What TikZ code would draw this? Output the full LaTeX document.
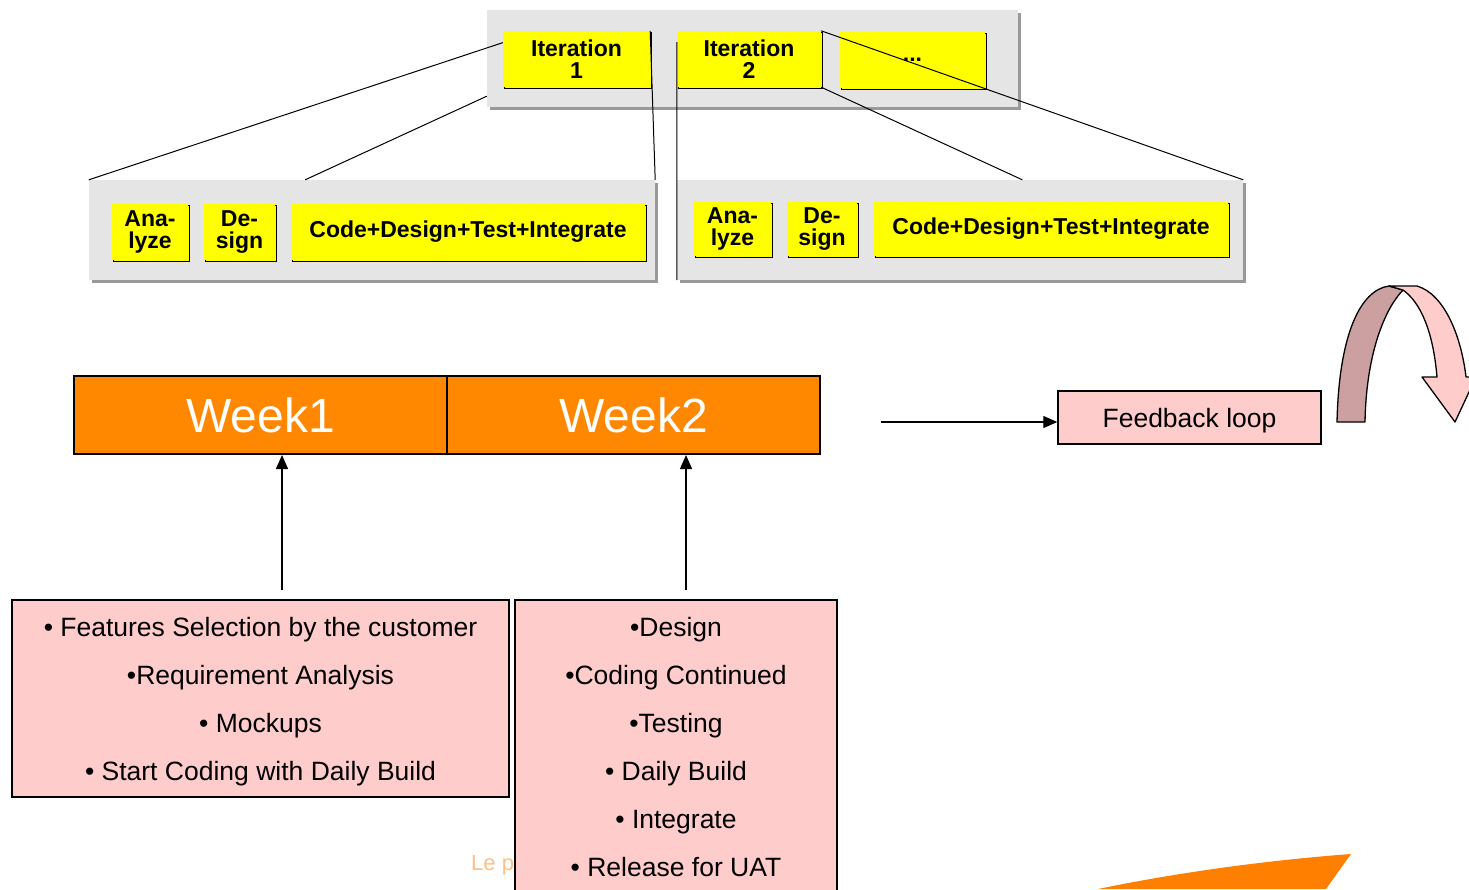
\documentclass[tikz,border=0pt]{standalone}
\usepackage{fontspec}
\setmainfont{Liberation Sans}
\usetikzlibrary{shadows,arrows.meta,calc}
\definecolor{panelgray}{RGB}{229,229,229}
\definecolor{panelshadow}{RGB}{153,153,153}
\definecolor{stepyellow}{RGB}{255,255,0}
\definecolor{weekorange}{RGB}{255,136,0}
\definecolor{notepink}{RGB}{255,204,204}
\definecolor{loopback}{RGB}{204,160,160}
\definecolor{footorange}{RGB}{255,128,0}
\definecolor{faintorange}{RGB}{255,190,130}

\begin{document}
\begin{tikzpicture}[x=1pt,y=-1pt,
  panel/.style={rectangle, fill=panelgray, inner sep=0pt,
    drop shadow={shadow xshift=3pt, shadow yshift=-3pt, fill=panelshadow, opacity=1}},
  tag/.style={rectangle, fill=stepyellow, inner sep=0pt, align=center,
    font=\bfseries\fontsize{23}{21.5}\selectfont,
    copy shadow={shadow xshift=1.5pt, shadow yshift=-1.5pt}},
  week/.style={rectangle, draw=black, line width=2pt, fill=weekorange, text=white,
    inner sep=0pt, minimum width=373pt, minimum height=78pt,
    font=\fontsize{48}{48}\selectfont},
  note/.style={rectangle, draw=black, line width=1.5pt, fill=notepink, inner sep=0pt},
  notetext/.style={inner sep=0pt, align=center, font=\fontsize{26.5}{48}\selectfont},
  link/.style={draw=black, line width=1pt},
  feed/.style={draw=black, line width=1.3pt, -{Triangle[length=14pt,width=12pt]}},
  band/.style={draw=black, line width=1.3pt, line join=round}
]
\useasboundingbox (0,0) rectangle (1469,889);

% iteration strip
\node[panel, minimum width=531pt, minimum height=97pt] (top) at (752.5,58.5) {};
\node[tag, minimum width=147pt, minimum height=56pt] (it1) at (576.5,59) {Iteration\\1};
\node[tag, minimum width=144pt, minimum height=56pt] (it2) at (749,59) {Iteration\\2};
\node[tag, minimum width=145pt, minimum height=56pt] (it3) at (912.5,60) {...};

% expanded iterations
\node[panel, minimum width=566pt, minimum height=100pt] (lp) at (372,230) {};
\node[tag, minimum width=76pt, minimum height=56pt] (la) at (150,232) {Ana-\\lyze};
\node[tag, minimum width=71pt, minimum height=56pt] (ld) at (239.5,232) {De-\\sign};
\node[tag, minimum width=354pt, minimum height=56pt] (lc) at (468,232) {Code+Design+Test+Integrate};

\node[panel, minimum width=566pt, minimum height=100pt] (rp) at (960,230) {};
\node[tag, minimum width=77pt, minimum height=54pt] (ra) at (732.5,229) {Ana-\\lyze};
\node[tag, minimum width=70pt, minimum height=54pt] (rd) at (822,229) {De-\\sign};
\node[tag, minimum width=354pt, minimum height=54pt] (rc) at (1051,229) {Code+Design+Test+Integrate};

% zoom lines from the strip to the expanded iterations
\draw[link] ($(it1.north west)!0.21!(it1.south west)$) -- (lp.north west);
\draw[link] ($(top.north west)!0.887!(top.south west)$) -- ($(lp.north west)!0.382!(lp.north east)$);
\draw[link] (it1.north east) -- (lp.north east);
\draw[link] ($(it2.north west)!0.2!(it2.south west)$) -- (rp.south west);
\draw[link] (it2.north east) -- (rp.north east);
\draw[link] (it2.south east) -- ($(rp.north west)!0.61!(rp.north east)$);

% weeks
\node[week] (w1) at (260.5,415) {Week1};
\node[week] (w2) at (633.5,415) {Week2};

% footer text partly hidden behind the second note
\node[anchor=base west, inner sep=0pt, text=faintorange, font=\fontsize{22}{22}\selectfont] (lep) at (471,870) {Le p};

% week contents
\node[note, minimum width=497pt, minimum height=197pt] (n1) at (260.5,698.5) {};
\node[notetext] (n1t) at (260.5,701.5)
  {• Features Selection by the customer\\•Requirement Analysis\\• Mockups\\• Start Coding with Daily Build};
\node[note, minimum width=322pt, minimum height=297pt] (n2) at (676,748.5) {};
\node[notetext] (n2t) at (676,747.5)
  {•Design\\•Coding Continued\\•Testing\\• Daily Build\\• Integrate\\• Release for UAT};

\coordinate (s1) at (282,590);
\coordinate (s2) at (686,590);
\draw[feed] (s1) -- (s1 |- w1.south);
\draw[feed] (s2) -- (s2 |- w2.south);

% feedback
\node[rectangle, draw=black, line width=1.5pt, fill=notepink, inner sep=0pt,
  minimum width=263pt, minimum height=53pt] (fb) at (1189.5,417.5) {};
\node[inner sep=0pt, font=\fontsize{26.5}{26.5}\selectfont] (fbt) at (1189.5,420.5) {Feedback loop};
\coordinate (fs) at (881,422);
\draw[feed] (fs) -- (fs -| fb.west);

% curved loop arrow
\draw[band, fill=loopback] (1337,422) .. controls (1339,335) and (1360,290) .. (1389,286)
  -- (1403,290) .. controls (1382,312) and (1366,360) .. (1365,422) -- cycle;
\draw[band, fill=notepink] (1403,290) -- (1389,286) -- (1417,286)
  .. controls (1444,294) and (1461,335) .. (1466,377) -- (1476,377) -- (1455,422) -- (1422,377)
  -- (1437,377) .. controls (1433,330) and (1420,302) .. (1403,290) -- cycle;

% orange corner decoration
\fill[footorange] (1098,889) .. controls (1180,872) and (1270,860) .. (1351,854) -- (1326,889) -- cycle;
\end{tikzpicture}
\end{document}
